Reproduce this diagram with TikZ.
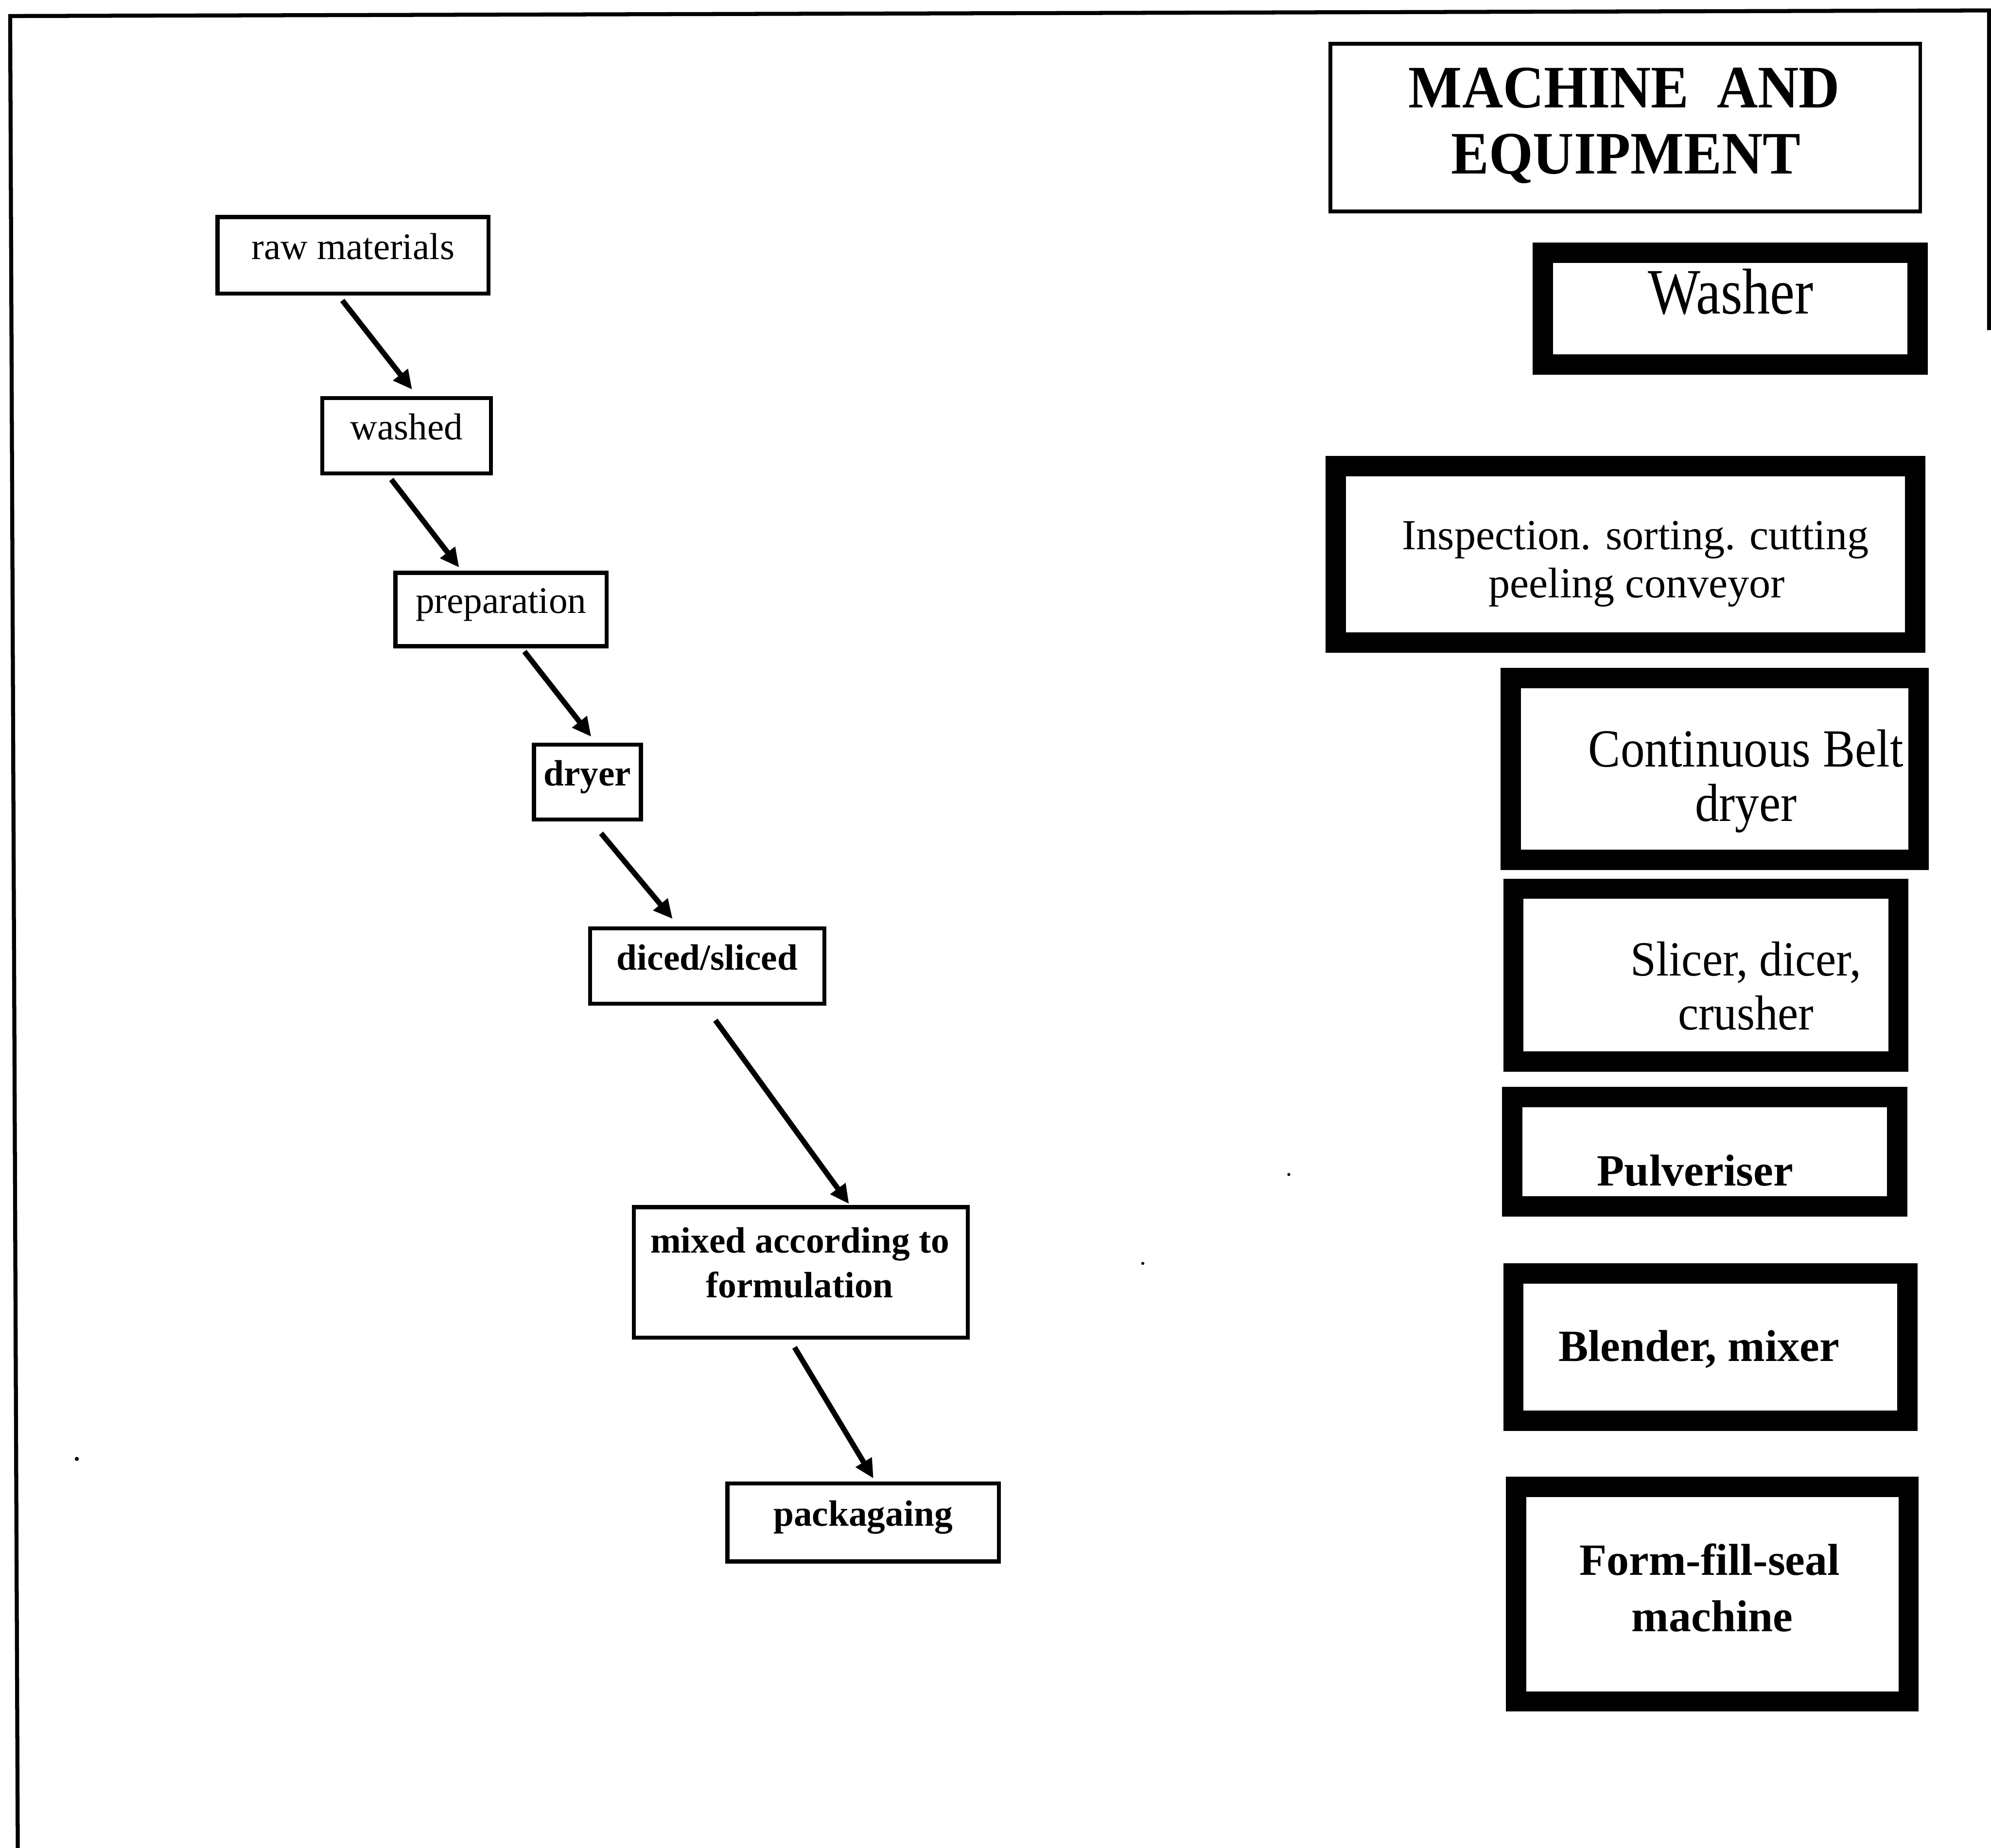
\documentclass[tikz,border=0pt]{standalone}
\usepackage{fontspec}
\setmainfont{Liberation Serif}
\newfontfamily\washfont[FakeStretch=0.86]{Liberation Serif}
\newfontfamily\contfont[FakeStretch=0.9]{Liberation Serif}
\newfontfamily\slicefont[FakeStretch=0.94]{Liberation Serif}
\newfontfamily\headfont[FakeStretch=0.94]{Liberation Serif}
\usetikzlibrary{arrows.meta}

\begin{document}
\begin{tikzpicture}[x=0.01cm, y=-0.01cm,
  frameline/.style={line width=0.9pt},
  flowbox/.style={draw, line width=0.9pt, inner sep=0pt, text height=5.9pt, text depth=4.2pt},
  flowreg/.style={flowbox, font=\fontsize{8.4}{10}\selectfont},
  flowbold/.style={flowbox, font=\fontsize{8.2}{10.1}\selectfont\bfseries},
  flowarrow/.style={line width=1.2pt, -{Triangle[length=0.15cm,width=0.14cm]}},
  headbox/.style={draw, line width=0.85pt, inner sep=0pt},
  equipbox/.style={draw, line width=0.16cm, inner sep=0pt},
  txt/.style={anchor=base, inner sep=0pt},
  boldleft/.style={font=\fontsize{8.2}{10.1}\selectfont\bfseries},
  boldright/.style={font=\fontsize{10}{12}\selectfont\bfseries}
]
\useasboundingbox (0,0) rectangle (1568,1455.4);

% outer frame
\coordinate (ftl) at (8,12.6);
\coordinate (fbl) at (14,1455.4);
\coordinate (ftr) at (1566.5,8.2);
\coordinate (fbr) at (1566.5,260);
\draw[frameline] (fbl) -- (ftl) -- (ftr) -- (fbr);

% process flow (left)
\node[flowreg, minimum width=2.133cm, minimum height=0.604cm] (raw) at (278,201.1) {raw materials};
\node[flowreg, minimum width=1.326cm, minimum height=0.594cm] (washed) at (320.2,343.1) {washed\hspace{0.17cm}};
\node[flowreg, minimum width=1.662cm, minimum height=0.578cm] (prep) at (394.6,480) {preparation};
\node[flowbold, minimum width=0.842cm, minimum height=0.59cm] (dryer) at (462.6,616) {dryer};
\node[flowbold, minimum width=1.844cm, minimum height=0.592cm] (diced) at (557,760.9) {diced/sliced};
\node[flowbold, minimum width=2.629cm, minimum height=1.028cm] (mixed) at (630.65,1002.1) {};
\node[txt, boldleft] (mixed-1) at (630,986.5) {mixed according to};
\node[txt, boldleft] (mixed-2) at (629.8,1022) {formulation};
\node[flowbold, minimum width=2.136cm, minimum height=0.614cm] (pack) at (679.7,1199) {packagaing};

\draw[flowarrow] ([shift={(-8.4,3.7)}]raw.south) -- ([shift={(4.4,-5)}]washed.north);
\draw[flowarrow] ([shift={(-12,3.2)}]washed.south) -- ([shift={(-33,-2.6)}]prep.north);
\draw[flowarrow] ([shift={(18.4,2.6)}]prep.south) -- ([shift={(3,-4.7)}]dryer.north);
\draw[flowarrow] ([shift={(10.8,9.2)}]dryer.south) -- ([shift={(-27.3,-6)}]diced.north);
\draw[flowarrow] ([shift={(6.4,11.4)}]diced.south) -- ([shift={(38,-0.9)}]mixed.north);
\draw[flowarrow] ([shift={(-4.9,6)}]mixed.south) -- ([shift={(8.2,-2.3)}]pack.north);

% machine and equipment (right)
\node[headbox, minimum width=4.642cm, minimum height=1.32cm] (machbox) at (1280.1,100.5) {};
\node[txt, font=\headfont\fontsize{13.5}{16}\selectfont\bfseries] (mach-1) at (1279.2,84.9) {MACHINE\ \ AND};
\node[txt, font=\headfont\fontsize{13.5}{16}\selectfont\bfseries] (mach-2) at (1280.5,136.8) {EQUIPMENT};

\node[equipbox, minimum width=2.95cm, minimum height=0.88cm] (washer) at (1362.5,243) {};
\node[txt, font=\washfont\fontsize{14.5}{17}\selectfont] (washer-t) at (1363,247) {Washer};

\node[equipbox, minimum width=4.56cm, minimum height=1.39cm] (insp) at (1280,436.5) {};
\node[txt, font=\fontsize{9.6}{11.5}\selectfont] (insp-1) at (1288,432.9) {Inspection. sorting. cutting};
\node[txt, font=\fontsize{9.6}{11.5}\selectfont] (insp-2) at (1289,470.6) {peeling conveyor};

\node[equipbox, minimum width=3.21cm, minimum height=1.43cm] (cont) at (1350.5,605.5) {};
\node[txt, font=\contfont\fontsize{12}{14}\selectfont] (cont-1) at (1375,603.8) {Continuous Belt};
\node[txt, font=\contfont\fontsize{12}{14}\selectfont] (cont-2) at (1375,646.8) {dryer};

\node[equipbox, minimum width=3.03cm, minimum height=1.36cm] (slic) at (1343.5,768) {};
\node[txt, font=\slicefont\fontsize{11}{13}\selectfont] (slic-1) at (1375,768.5) {Slicer, dicer,};
\node[txt, font=\slicefont\fontsize{11}{13}\selectfont] (slic-2) at (1375,810.8) {crusher};

\node[equipbox, minimum width=3.03cm, minimum height=0.86cm] (pulv) at (1342.5,907) {};
\node[txt, boldright] (pulv-t) at (1335,933.9) {Pulveriser};

\node[equipbox, minimum width=3.10cm, minimum height=1.16cm] (blend) at (1347,1061) {};
\node[txt, boldright] (blend-t) at (1338,1072.2) {Blender, mixer};

\node[equipbox, minimum width=3.09cm, minimum height=1.69cm] (form) at (1348.5,1255.5) {};
\node[txt, boldright] (form-1) at (1346.4,1240.4) {Form-fill-seal};
\node[txt, boldright] (form-2) at (1348.5,1284.8) {machine};

% specks
\fill (1015,925) circle[radius=0.012cm];
\fill (900,995) circle[radius=0.012cm];
\fill (60.5,1149) circle[radius=0.016cm];
\end{tikzpicture}
\end{document}
